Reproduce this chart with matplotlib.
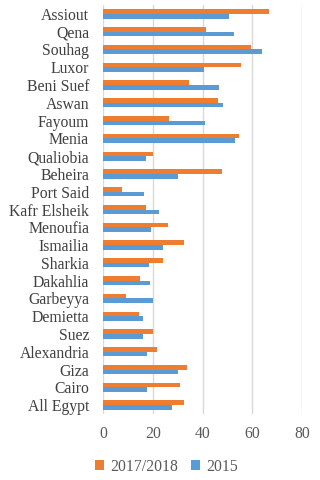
import matplotlib.pyplot as plt
import numpy as np

plt.rcParams['font.family'] = ['Liberation Serif', 'DejaVu Serif']

regions = ['Assiout', 'Qena', 'Souhag', 'Luxor', 'Beni Suef', 'Aswan', 'Fayoum',
           'Menia', 'Qualiobia', 'Beheira', 'Port Said', 'Kafr Elsheik', 'Menoufia',
           'Ismailia', 'Sharkia', 'Dakahlia', 'Garbeyya', 'Demietta', 'Suez',
           'Alexandria', 'Giza', 'Cairo', 'All Egypt']
val_2017 = [66.8, 41.4, 59.4, 55.4, 34.4, 46.3, 26.4, 54.6, 20.0, 47.7, 7.5, 17.3, 26.0,
            32.4, 24.1, 15.0, 9.1, 14.3, 20.0, 21.6, 33.9, 31.0, 32.4]
val_2015 = [50.7, 52.7, 63.8, 40.6, 46.6, 48.2, 40.8, 53.0, 17.3, 30.3, 16.3, 22.5, 19.2,
            24.1, 18.4, 18.7, 20.0, 16.1, 16.1, 17.7, 30.3, 17.7, 27.7]

fig = plt.figure(figsize=(3.2, 4.8), dpi=100)
ax = fig.add_axes([0.322, 0.1375, 0.622, 0.852])

y = np.arange(len(regions))[::-1]
h = 0.26
ax.barh(y + h / 2, val_2017, height=h, color='#ED7D31', label='2017/2018', zorder=3)
ax.barh(y - h / 2, val_2015, height=h, color='#5B9BD5', label='2015', zorder=3)

ax.set_xlim(0, 80)
ax.set_ylim(-0.5, len(regions) - 0.5)
ax.set_xticks([0, 20, 40, 60, 80])
ax.set_yticks(y)
ax.set_yticklabels(regions)
ax.tick_params(axis='both', length=0, labelsize=11.3, colors='#595959')
ax.tick_params(axis='y', pad=10, labelcolor='#404040')
ax.tick_params(axis='x', pad=9)
ax.grid(axis='x', color='#D9D9D9', linewidth=1, zorder=0)
for s in ax.spines.values():
    s.set_visible(False)

fig.legend(loc='lower center', bbox_to_anchor=(0.52, -0.018), ncol=2, frameon=False,
           fontsize=11.3, handlelength=0.6, handleheight=0.6, handletextpad=0.4,
           columnspacing=0.8, labelcolor='#595959')

fig.savefig('out.png', dpi=100)
